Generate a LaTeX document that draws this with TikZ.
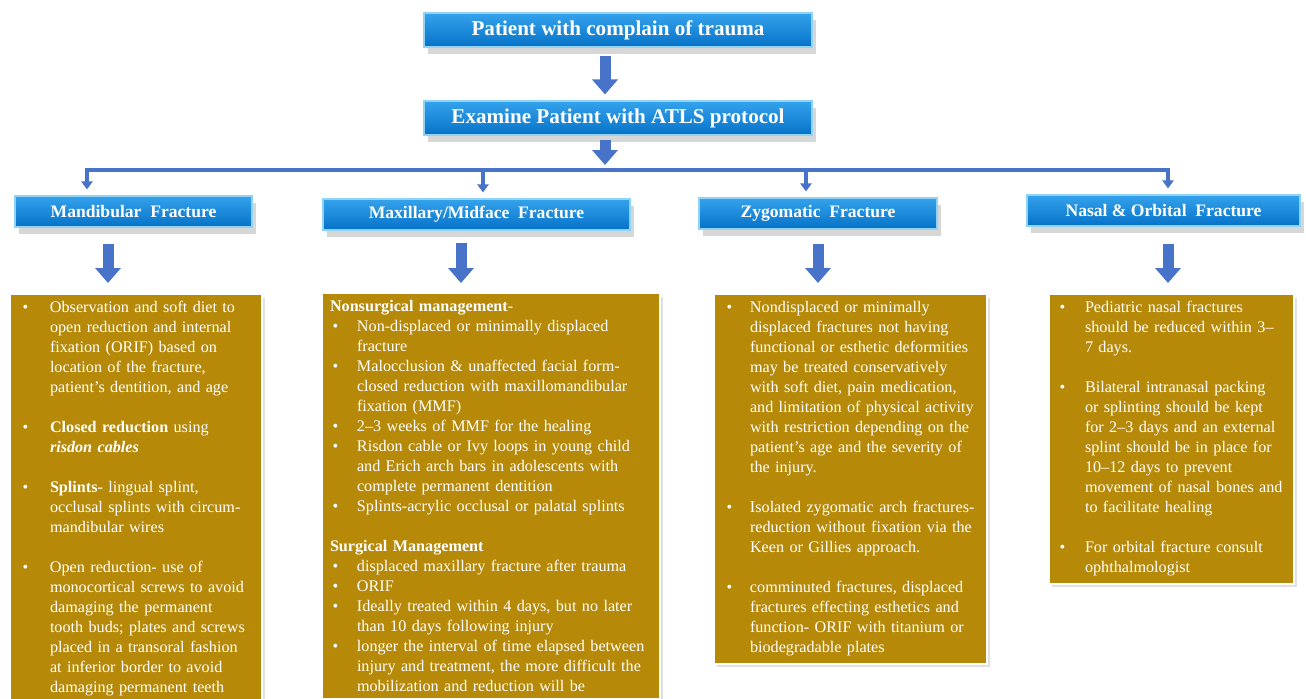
\documentclass[tikz,border=0pt]{standalone}
\usepackage{fontspec}
\setmainfont{Liberation Serif}
\usepackage{tikz}
\usetikzlibrary{arrows.meta}
\usetikzlibrary{shadows}
\usetikzlibrary{positioning}
\usepackage{xcolor}
\definecolor{headtop}{HTML}{35A2EC}
\definecolor{headbot}{HTML}{0672C8}
\definecolor{headrim}{HTML}{8FD3F7}
\definecolor{arrowblue}{HTML}{4773C8}
\definecolor{notegold}{HTML}{B68909}

\hyphenpenalty=10000
\newcommand{\bpoint}[2][0.6cm]{\noindent\hangindent=#1\hangafter=1\makebox[#1][l]{\hspace{0.05cm}\textbullet}#2\par}
\newcommand{\gap}{\par\vskip 11.38pt}

\tikzset{
  headbox/.style={draw=headrim, line width=0.6pt, top color=headtop, bottom color=headbot,
    text=white, inner sep=0pt,
    drop shadow={shadow xshift=2pt, shadow yshift=-4pt, fill=black!45, opacity=0.35}},
  topfont/.style={font=\fontsize{12}{14}\selectfont\bfseries},
  levelfont/.style={font=\fontsize{10}{12}\selectfont\bfseries},
  notebox/.style={draw=white, line width=1.2pt, fill=notegold, text=white, anchor=north,
    font=\fontsize{9.2}{11.38}\selectfont, align=left, inner xsep=0.2cm, inner ysep=0.15cm,
    drop shadow={shadow xshift=1.5pt, shadow yshift=-2pt, fill=black!30, opacity=0.4}},
  blockarrow/.style={draw=arrowblue, line width=0.22cm, -{Triangle[width=0.5cm,length=0.3cm]}},
  barline/.style={draw=arrowblue, line width=0.08cm, line cap=rect},
  droparrow/.style={draw=arrowblue, line width=0.08cm, -{Triangle[width=0.22cm,length=0.16cm]},
    shorten >=0.12cm},
}

\begin{document}
\begin{tikzpicture}
       \useasboundingbox (0,0) rectangle (26.12,-13.96);

       \node[headbox, topfont, minimum width=7.76cm, minimum height=0.68cm] (trauma) at (12.36,-0.60) {Patient with complain of trauma};
       \node[headbox, topfont, minimum width=7.76cm, minimum height=0.68cm] (atls) at (12.36,-2.36) {Examine Patient with ATLS protocol};

       \node[headbox, levelfont, minimum width=4.74cm, minimum height=0.62cm] (mandhead) at (2.67,-4.23) {Mandibular~~Fracture};
       \node[headbox, levelfont, minimum width=6.14cm, minimum height=0.62cm] (maxhead) at (9.53,-4.29) {Maxillary/Midface~~Fracture};
       \node[headbox, levelfont, minimum width=4.76cm, minimum height=0.62cm] (zyghead) at (16.36,-4.27) {Zygomatic~~Fracture};
       \node[headbox, levelfont, minimum width=5.46cm, minimum height=0.62cm] (nasalhead) at (23.27,-4.21) {Nasal \& Orbital~~Fracture};

       \node[notebox, text width=4.64cm] (mandnote) at (2.72,-5.86) {%
         \bpoint{Observation and soft diet to\newline open reduction and internal\newline fixation (ORIF) based on\newline location of the fracture,\newline patient’s dentition, and age}
         \gap
         \bpoint{\textbf{Closed reduction} using\newline \textbf{\textit{risdon cables}}}
         \gap
         \bpoint{\textbf{Splints}- lingual splint,\newline occlusal splints with circum-\newline mandibular wires}
         \gap
         \bpoint{Open reduction- use of\newline monocortical screws to avoid\newline damaging the permanent\newline tooth buds; plates and screws\newline placed in a transoral fashion\newline at inferior border to avoid\newline damaging permanent teeth}};

       \node[notebox, inner xsep=0.16cm, text width=6.44cm] (maxnote) at (9.82,-5.84) {%
         \noindent\textbf{Nonsurgical management}-\par
         \bpoint[0.54cm]{Non-displaced or minimally displaced\newline fracture}
         \bpoint[0.54cm]{Malocclusion \& unaffected facial form-\newline closed reduction with maxillomandibular\newline fixation (MMF)}
         \bpoint[0.54cm]{2–3 weeks of MMF for the healing}
         \bpoint[0.54cm]{Risdon cable or Ivy loops in young child\newline and Erich arch bars in adolescents with\newline complete permanent dentition}
         \bpoint[0.54cm]{Splints-acrylic occlusal or palatal splints}
         \gap
         \noindent\textbf{Surgical Management}\par
         \bpoint[0.54cm]{displaced maxillary fracture after trauma}
         \bpoint[0.54cm]{ORIF}
         \bpoint[0.54cm]{Ideally treated within 4 days, but no later\newline than 10 days following injury}
         \bpoint[0.54cm]{longer the interval of time elapsed between\newline injury and treatment, the more difficult the\newline mobilization and reduction will be}};

       \node[notebox, text width=5.06cm] (zygnote) at (17.01,-5.86) {%
         \bpoint[0.52cm]{Nondisplaced or minimally\newline displaced fractures not having\newline functional or esthetic deformities\newline may be treated conservatively\newline with soft diet, pain medication,\newline and limitation of physical activity\newline with restriction depending on the\newline patient’s age and the severity of\newline the injury.}
         \gap
         \bpoint[0.52cm]{Isolated zygomatic arch fractures-\newline reduction without fixation via the\newline Keen or Gillies approach.}
         \gap
         \bpoint[0.52cm]{comminuted fractures, displaced\newline fractures effecting esthetics and\newline function- ORIF with titanium or\newline biodegradable plates}};

       \node[notebox, inner xsep=0.16cm, text width=4.58cm] (nasalnote) at (23.43,-5.86) {%
         \bpoint[0.56cm]{Pediatric nasal fractures\newline should be reduced within 3–\newline 7 days.}
         \gap
         \bpoint[0.56cm]{Bilateral intranasal packing\newline or splinting should be kept\newline for 2–3 days and an external\newline splint should be in place for\newline 10–12 days to prevent\newline movement of nasal bones and\newline to facilitate healing}
         \gap
         \bpoint[0.56cm]{For orbital fracture consult\newline ophthalmologist}};

       \coordinate (stemx) at (12.10,0);
       \coordinate (barA) at (1.74,-3.40);
       \coordinate (barB) at (9.66,-3.40);
       \coordinate (barC) at (16.12,-3.40);
       \coordinate (barD) at (23.36,-3.40);
       \coordinate (barmid) at (12.10,-3.40);

       \draw[blockarrow, shorten <=0.16cm, shorten >=0.12cm] (stemx |- trauma.south) -- (stemx |- atls.north);
       \draw[blockarrow, shorten <=0.08cm, shorten >=0.1cm] (stemx |- atls.south) -- (barmid);

       \draw[barline] (barA) -- (barD);
       \draw[droparrow] (barA) -- (barA |- mandhead.north);
       \draw[droparrow] (barB) -- (barB |- maxhead.north);
       \draw[droparrow] (barC) -- (barC |- zyghead.north);
       \draw[droparrow] (barD) -- (barD |- nasalhead.north);

       \coordinate (mandx) at (2.16,0);
       \coordinate (maxx) at (9.22,0);
       \coordinate (zygx) at (16.36,0);
       \coordinate (nasalx) at (23.36,0);
       \draw[blockarrow, shorten <=0.32cm, shorten >=0.2cm] (mandx |- mandhead.south) -- (mandx |- mandnote.north);
       \draw[blockarrow, shorten <=0.24cm, shorten >=0.18cm] (maxx |- maxhead.south) -- (maxx |- maxnote.north);
       \draw[blockarrow, shorten <=0.28cm, shorten >=0.2cm] (zygx |- zyghead.south) -- (zygx |- zygnote.north);
       \draw[blockarrow, shorten <=0.34cm, shorten >=0.2cm] (nasalx |- nasalhead.south) -- (nasalx |- nasalnote.north);
    \end{tikzpicture}
\end{document}
